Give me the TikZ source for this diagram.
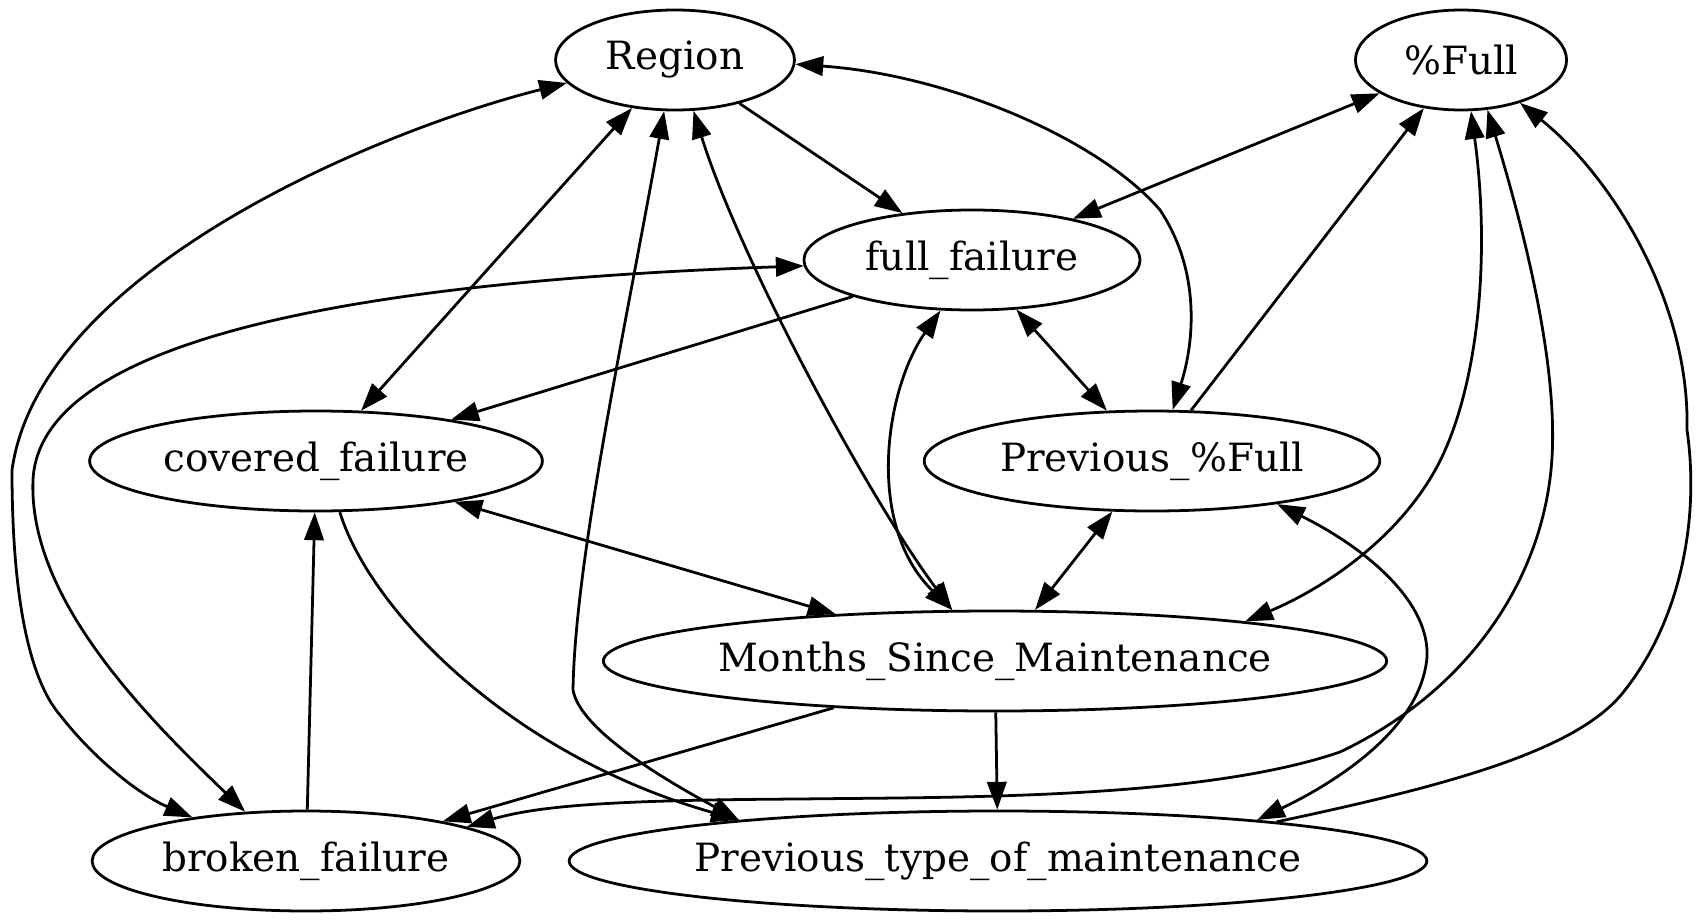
\documentclass[tikz,border=0pt]{standalone}
\usepackage{fontspec}
\setmainfont{DejaVu Serif}
\usetikzlibrary{arrows.meta,shapes.geometric}

\begin{document}
\begin{tikzpicture}[x=0.36pt,y=-0.36pt,line width=1pt,
    >={Triangle[length=10pt,width=7pt]},
    var/.style={ellipse,draw,inner sep=0pt,minimum height=36pt,
      font=\fontsize{14}{17}\selectfont}]
    \useasboundingbox (0,0) rectangle (1702,922);
    \node[var,minimum width=86pt]  (region) at (675,60)   {Region};
    \node[var,minimum width=76pt]  (full)   at (1461,60)  {\%Full};
    \node[var,minimum width=121pt] (ff)     at (972,260)  {full\_failure};
    \node[var,minimum width=163pt] (cf)     at (316,461)  {covered\_failure};
    \node[var,minimum width=164pt] (pf)     at (1152,461) {Previous\_\%Full};
    \node[var,minimum width=280pt] (msm)    at (995,661)  {Months\_Since\_Maintenance};
    \node[var,minimum width=154pt] (bf)     at (306,861)  {broken\_failure};
    \node[var,minimum width=307pt] (ptm)    at (998,861)  {Previous\_type\_of\_maintenance};
    \path[->]
    (region) edge (ff)
    (pf) edge (full)
    (ff) edge (cf)
    (bf) edge (cf)
    (msm) edge (bf)
    (msm) edge (ptm);
    \path[<->]
    (region) edge (cf)
    (full) edge (ff)
    (ff) edge (pf)
    (pf) edge (msm)
    (cf) edge (msm);
    % curved edges
    \draw[<->] (region.192) .. controls (380,130) and (40,270) .. (12,470)
      .. controls (12,600) and (30,680) .. (60,715)
      .. controls (95,760) and (140,795) .. (bf.159);
    \draw[<->] (ff.182) .. controls (400,280) and (40,330) .. (33,480)
      .. controls (28,600) and (150,720) .. (bf.141);
    \draw[<->] (region.258) .. controls (625,330) and (575,560) .. (573,690)
      .. controls (580,730) and (665,780) .. (ptm.171);
    \draw[<->] (region.290) .. controls (740,260) and (870,500) .. (msm.130);
    \draw[<->] (ff.238) .. controls (885,390) and (865,525) .. (msm.130);
    \draw[<->] (region.358) .. controls (950,75) and (1100,140) .. (1160,210)
      .. controls (1200,270) and (1195,340) .. (pf.68);
    \draw[<->] (full.281) .. controls (1490,250) and (1480,380) .. (1440,461)
      .. controls (1400,540) and (1320,590) .. (msm.9);
    \draw[<->] (full.298) .. controls (1530,250) and (1560,380) .. (1551,470)
      .. controls (1540,580) and (1470,690) .. (1340,752)
      .. controls (1200,800) and (950,797) .. (800,799)
      .. controls (620,800) and (540,805) .. (bf.12);
    \draw[->] (ptm.8) .. controls (1450,785) and (1580,750) .. (1625,690)
      .. controls (1680,620) and (1700,520) .. (1687,430)
      .. controls (1690,300) and (1610,175) .. (full.324);
    \draw[<->] (pf.341) .. controls (1370,550) and (1440,610) .. (1425,670)
      .. controls (1410,740) and (1320,790) .. (ptm.9);
    \draw[->] (cf.295) .. controls (370,610) and (510,755) .. (ptm.171);
  \end{tikzpicture}
\end{document}
